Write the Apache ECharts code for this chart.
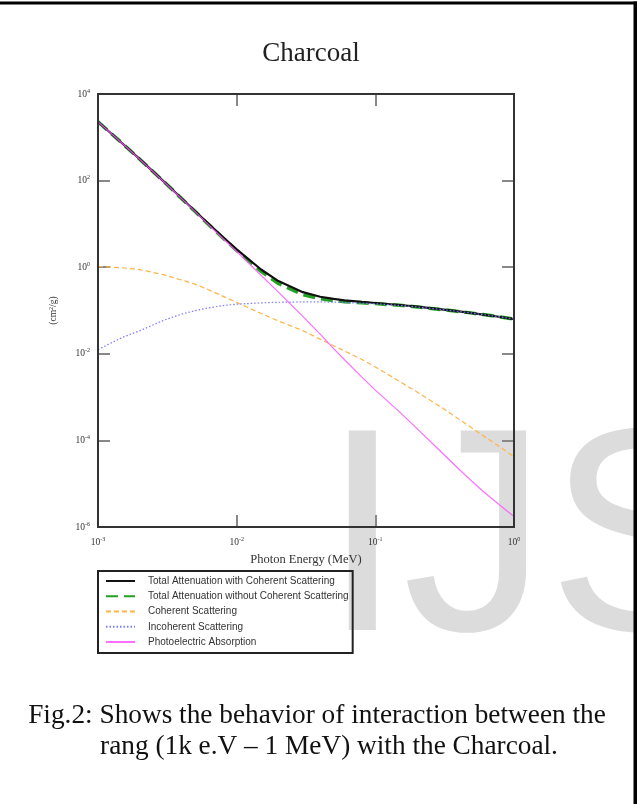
<!DOCTYPE html>
<html>
<head>
<meta charset="utf-8">
<style>
html,body{margin:0;padding:0;background:#fff;}
#chart{width:637px;height:804px;}
</style>
<script src="https://cdn.jsdelivr.net/npm/echarts@6/dist/echarts.min.js"></script>
</head>
<body>
<div id="chart"></div>
<script>
// Photon energy grid (MeV)
var energies = [0.001, 0.0015, 0.002, 0.003, 0.004, 0.005, 0.006, 0.008, 0.01, 0.015, 0.02, 0.03, 0.04, 0.05, 0.06, 0.08, 0.1, 0.15, 0.2, 0.3, 0.4, 0.5, 0.6, 0.8, 1.0];
// Attenuation coefficients (cm^2/g)
var totalWithCoh = [2291, 721, 312.9, 93.7, 39.1, 19.9, 11.43, 4.89, 2.59, 0.885, 0.477, 0.265, 0.208, 0.185, 0.172, 0.158, 0.149, 0.134, 0.1225, 0.106, 0.0953, 0.0872, 0.0806, 0.0708, 0.0635];
var totalWithoutCoh = [2290, 720, 312, 93.1, 38.6, 19.5, 11.1, 4.68, 2.44, 0.80, 0.42, 0.231, 0.1865, 0.169, 0.160, 0.151, 0.1445, 0.1314, 0.1212, 0.1051, 0.0950, 0.0870, 0.0805, 0.0707, 0.0635];
var coherent = [1.04, 0.97, 0.88, 0.666, 0.505, 0.407, 0.321, 0.212, 0.154, 0.0853, 0.0574, 0.0342, 0.0218, 0.0154, 0.0116, 0.0074, 0.00497, 0.00229, 0.00131, 0.00058, 0.00031, 0.00019, 0.000128, 0.000069, 0.000042];
var incoherent = [0.0125, 0.024, 0.034, 0.060, 0.082, 0.099, 0.112, 0.130, 0.140, 0.150, 0.155, 0.158, 0.158, 0.156, 0.153, 0.148, 0.143, 0.131, 0.121, 0.105, 0.095, 0.087, 0.0805, 0.0707, 0.0635];
var photoelectric = [2290, 720, 312, 93, 38.5, 19.4, 11.0, 4.55, 2.3, 0.65, 0.265, 0.073, 0.0285, 0.0132, 0.0073, 0.0029, 0.00145, 0.00045, 0.000187, 0.0000533, 0.0000218, 0.0000112, 0.0000066, 0.0000031, 0.00000175];

var seriesNames = [
  'Total Attenuation with Coherent Scattering',
  'Total Attenuation without Coherent Scattering',
  'Coherent Scattering',
  'Incoherent Scattering',
  'Photoelectric Absorption'
];
var xTickExponents = [-3, -2, -1, 0];
var yTickExponents = [-6, -4, -2, 0, 2, 4];
var titleText = 'Charcoal';
var xAxisName = 'Photon Energy (MeV)';
var yAxisName = '(cm{s|2}/g)';
var captionLines = [
  'Fig.2: Shows the behavior of interaction between the',
  'rang (1k e.V \u2013 1 MeV) with the Charcoal.'
];
var watermarkText = 'IJS';

function pairs(vals) {
  return energies.map(function (e, i) { return [e, vals[i]]; });
}
function expLabel(allowed) {
  return function (v) {
    var e = Math.round(Math.log(v) / Math.LN10);
    if (allowed.indexOf(e) < 0) return '';
    return '{b|10}{s|' + e + '}';
  };
}
var serif = '"Liberation Serif", "Times New Roman", serif';
var sans = '"Liberation Sans", Arial, sans-serif';
var labelRich = {
  b: { fontSize: 9.5, fontFamily: serif, color: '#333', lineHeight: 12 },
  s: { fontSize: 6, fontFamily: serif, color: '#333', lineHeight: 6, verticalAlign: 'top' }
};

var tickStyle = { show: true, inside: true, length: 12, lineStyle: { color: '#888', width: 2 } };
var lineAxis = { show: true, lineStyle: { color: '#333', width: 2 } };

var chart = echarts.init(document.getElementById('chart'), null, { renderer: 'canvas' });
chart.setOption({
  backgroundColor: '#fff',
  animation: false,
  title: {
    text: titleText,
    left: 306,
    textAlign: 'center',
    top: 35,
    textStyle: { fontFamily: serif, fontSize: 27, fontWeight: 'normal', color: '#222' }
  },
  grid: { left: 98, right: 123, top: 94, bottom: 277, containLabel: false },
  legend: {
    orient: 'vertical',
    left: 98,
    top: 571,
    padding: [5, 4, 6, 7],
    borderColor: '#222',
    borderWidth: 2,
    itemWidth: 29,
    itemHeight: 10,
    itemGap: 5.25,
    itemStyle: { opacity: 0 },
    textStyle: { fontFamily: sans, fontSize: 10, lineHeight: 10, color: '#333', padding: [0, 0, 0, 8] },
    data: seriesNames
  },
  xAxis: [
    {
      type: 'log', logBase: 10, min: 0.001, max: 1, interval: 1, position: 'bottom',
      name: xAxisName, nameLocation: 'middle', nameGap: 26,
      nameTextStyle: { fontFamily: serif, fontSize: 12.5, color: '#333' },
      axisLine: lineAxis, axisTick: tickStyle,
      axisLabel: { margin: 9, formatter: expLabel(xTickExponents), rich: labelRich },
      splitLine: { show: false }, minorTick: { show: false }
    },
    {
      type: 'log', logBase: 10, min: 0.001, max: 1, interval: 1, position: 'top',
      axisLine: lineAxis, axisTick: tickStyle, axisLabel: { show: false },
      splitLine: { show: false }
    }
  ],
  yAxis: [
    {
      type: 'log', logBase: 10, min: 1e-6, max: 1e4, interval: 2, position: 'left',
      name: yAxisName, nameLocation: 'middle', nameGap: 40,
      nameTextStyle: { fontFamily: serif, fontSize: 9.5, color: '#333', rich: labelRich },
      axisLine: lineAxis, axisTick: tickStyle,
      axisLabel: { margin: 8, formatter: expLabel(yTickExponents), rich: labelRich },
      splitLine: { show: false }
    },
    {
      type: 'log', logBase: 10, min: 1e-6, max: 1e4, interval: 2, position: 'right',
      axisLine: lineAxis, axisTick: tickStyle, axisLabel: { show: false },
      splitLine: { show: false }
    }
  ],
  series: [
    {
      name: seriesNames[1], type: 'line', data: pairs(totalWithoutCoh), showSymbol: false, symbol: 'none',
      z: 2,
      lineStyle: { color: '#22a022', width: 3.5, type: [12, 6] }, itemStyle: { color: '#22a022' }
    },
    {
      name: seriesNames[0], type: 'line', data: pairs(totalWithCoh), showSymbol: false, symbol: 'none',
      z: 3,
      lineStyle: { color: '#111', width: 2.2 }, itemStyle: { color: '#111' }
    },
    {
      name: seriesNames[2], type: 'line', data: pairs(coherent), showSymbol: false, symbol: 'none',
      z: 4,
      lineStyle: { color: '#ffb347', width: 1.2, type: [5, 3] }, itemStyle: { color: '#ffb347' }
    },
    {
      name: seriesNames[3], type: 'line', data: pairs(incoherent), showSymbol: false, symbol: 'none',
      z: 4,
      lineStyle: { color: '#7a7aff', width: 1.2, type: [1.5, 2] }, itemStyle: { color: '#7a7aff' }
    },
    {
      name: seriesNames[4], type: 'line', data: pairs(photoelectric), showSymbol: false, symbol: 'none',
      z: 5,
      lineStyle: { color: '#ff55ff', width: 1.2, opacity: 0.85 }, itemStyle: { color: '#ff55ff' }
    }
  ],
  graphic: [
    {
      type: 'text', z: -10, silent: true,
      style: { text: watermarkText, x: 322, y: 695, font: '290px "Liberation Sans", Arial, sans-serif',
               fill: '#dcdcdc', textAlign: 'left', textVerticalAlign: 'bottom' }
    },
    {
      type: 'rect', z: 50, silent: true,
      shape: { x: 98, y: 94, width: 416, height: 433 },
      style: { fill: null, stroke: '#333', lineWidth: 2 }
    },
    {
      type: 'text', z: 10,
      style: { text: captionLines[0], x: 317, y: 716, font: '27.3px "Liberation Serif", serif',
               fill: '#111', textAlign: 'center', textVerticalAlign: 'middle' }
    },
    {
      type: 'text', z: 10,
      style: { text: captionLines[1], x: 329, y: 747, font: '27.3px "Liberation Serif", serif',
               fill: '#111', textAlign: 'center', textVerticalAlign: 'middle' }
    },
    { type: 'rect', z: 10, shape: { x: 0, y: 1.5, width: 637, height: 3 }, style: { fill: '#000' } },
    { type: 'rect', z: 10, shape: { x: 633.5, y: 1.5, width: 3.5, height: 802.5 }, style: { fill: '#000' } }
  ]
});
</script>
</body>
</html>
